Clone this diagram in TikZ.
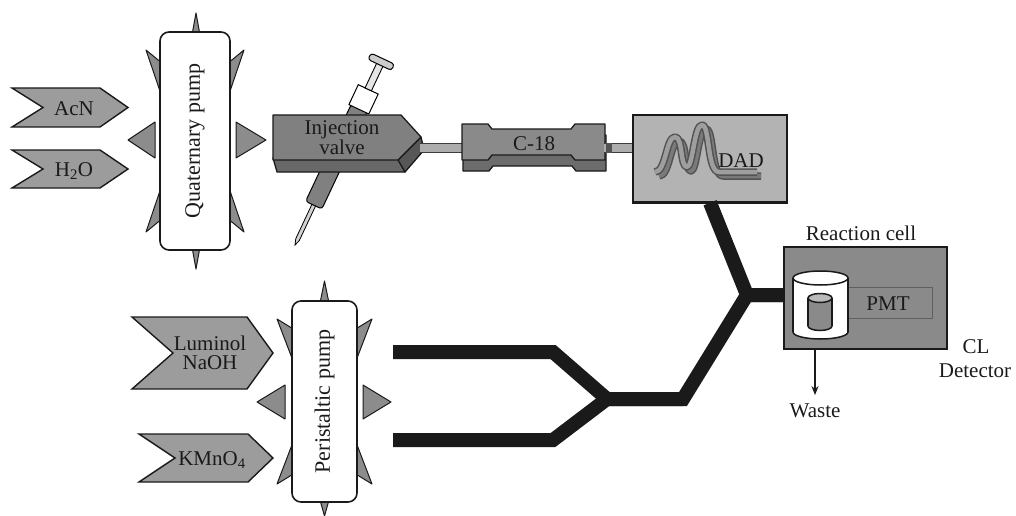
\documentclass[tikz,border=0pt]{standalone}
\usepackage{fontspec}
\setmainfont{Liberation Serif}
\usetikzlibrary{arrows.meta}
\definecolor{ink}{HTML}{1A1A1A}
\definecolor{chevgray}{HTML}{9C9C9C}
\definecolor{spikegray}{HTML}{8C8C8C}
\definecolor{valvegray}{HTML}{808080}
\definecolor{valvedark}{HTML}{686868}
\definecolor{valvedeep}{HTML}{575757}
\definecolor{colgray}{HTML}{8A8A8A}
\definecolor{coldark}{HTML}{6C6C6C}
\definecolor{dadgray}{HTML}{B3B3B3}
\definecolor{clgray}{HTML}{8A8A8A}
\definecolor{tubegray}{HTML}{ADADAD}
\definecolor{ribbonlight}{HTML}{9E9E9E}
\definecolor{ribbondark}{HTML}{7A7A7A}

% one chromatogram trace (two peaks on a baseline)
\newcommand\chromline[1]{%
  \draw[#1] (655,172) .. controls (666,172) and (666,137) .. (675,137)
    .. controls (683,137) and (680,167) .. (687,167)
    .. controls (693,167) and (694,125) .. (702,125)
    .. controls (710,125) and (707,172) .. (719,172) -- (757,172);}

\begin{document}
\begin{tikzpicture}[x=1pt,y=-1pt,
  every node/.style={inner sep=0pt, text=ink},
  lbl/.style={font=\fontsize{21}{19}\selectfont, align=center},
  chevron/.style={fill=chevgray, draw=ink, line width=1.4pt, line join=miter},
  spike/.style={fill=spikegray, draw=ink, line width=1pt, line join=round},
  pumpbox/.style={draw=ink, fill=white, line width=1.6pt, rounded corners=9pt,
    font=\fontsize{22}{22}\selectfont},
  flow/.style={draw=ink, line width=14pt, line join=miter},
  tube/.style={draw=ink!85, line width=1pt, double=tubegray, double distance=8pt},
  solid3d/.style={draw=ink, line width=1.3pt, line join=round},
  cyl/.style={draw=ink, line width=1.5pt},
  wastearrow/.style={draw=ink, line width=1.3pt, -{Stealth[length=9pt,width=7pt]}}
]
\useasboundingbox (0,0) rectangle (1016,516);

% ---------- solvent inlets ----------
\draw[chevron] (12,88) -- (100,88) -- (128,107.5) -- (100,127) -- (12,127) -- (43,107.5) -- cycle;
\node[lbl, anchor=base] (acn) at (74,115) {AcN};
\draw[chevron] (12,150) -- (100,150) -- (128,169) -- (100,188) -- (12,188) -- (43,169) -- cycle;
\node[lbl, anchor=base] (h2o) at (74,176) {H\textsubscript{2}O};

% ---------- quaternary pump ----------
\draw[spike] (192,35) -- (196,13) -- (200,35) -- cycle;
\draw[spike] (192,247) -- (196,269) -- (200,247) -- cycle;
\draw[spike] (155,122) -- (128,140) -- (155,158) -- cycle;
\draw[spike] (236,122) -- (266,140) -- (236,158) -- cycle;
\draw[spike] (146,50) -- (163,64) -- (163,100) -- cycle;
\draw[spike] (244,50) -- (227,64) -- (227,100) -- cycle;
\draw[spike] (146,232) -- (163,218) -- (163,182) -- cycle;
\draw[spike] (244,232) -- (227,218) -- (227,182) -- cycle;
\node[pumpbox, rotate=90, minimum width=218pt, minimum height=70pt] (qpump) at (195,141) {Quaternary pump};

% ---------- syringe through the injection valve ----------
\begin{scope}[shift={(295,245)}, rotate=64.8]
  \draw[fill=gray!35, line width=0.8pt] (0,0) -- (6,-2) -- (47,-2) -- (47,2) -- (6,2) -- cycle;
  \draw[fill=valvegray, line width=1pt, rounded corners=3pt] (44,-9) rectangle (151,9);
  \draw[fill=white, line width=1pt] (150,-11) rectangle (172,11);
  \draw[fill=gray!20, line width=0.9pt] (172,-3.5) rectangle (200,3.5);
  \draw[fill=gray!40, line width=1pt, rounded corners=3pt] (199,-13) rectangle (206,13);
\end{scope}

% ---------- injection valve ----------
\draw[solid3d, fill=valvedark] (273,158) -- (398,158) -- (405,172) -- (277,172) -- cycle;
\draw[solid3d, fill=valvedeep] (398,160) -- (421,137) -- (424,150) -- (405,172) -- cycle;
\draw[solid3d, fill=valvegray] (273,115) -- (401,115) -- (421,137) -- (398,160) -- (273,160) -- cycle;
\node[lbl] (valve) at (342,138) {Injection\\valve};

% ---------- C-18 column ----------
\coordinate (vout) at (420,148);
\coordinate (cin) at (463,148);
\coordinate (cout) at (604,148);
\draw[tube] (vout) -- (cin);
\begin{scope}[shift={(1,11)}]
  \draw[solid3d, fill=coldark] (462,124) -- (488,124) -- (492,129) -- (571,129) -- (575,124) -- (605,124)
    -- (605,160) -- (575,160) -- (571,155) -- (492,155) -- (488,160) -- (462,160) -- cycle;
\end{scope}
\draw[solid3d, fill=colgray] (462,124) -- (488,124) -- (492,129) -- (571,129) -- (575,124) -- (605,124)
    -- (605,160) -- (575,160) -- (571,155) -- (492,155) -- (488,160) -- (462,160) -- cycle;
\node[lbl, anchor=base] (col) at (534,150) {C-18};

% ---------- black flow lines ----------
\coordinate (j1) at (747,295);
\coordinate (k1) at (683,399);
\coordinate (j2) at (607,399);
\coordinate (u1) at (553,352);
\coordinate (l1) at (553,440);
\coordinate (lumend) at (393,352);
\coordinate (kmnend) at (393,440);

% ---------- DAD ----------
\node[draw=ink, line width=1.5pt, fill=dadgray, minimum width=154pt, minimum height=87pt] (dad) at (710,158.5) {};
\draw[tube] (cout) -- (dad.west |- cout);
\fill[ink!75] (606,143) rectangle (612,153);
\begin{scope}[shift={(4,4)}]
  \chromline{line width=7.5pt, draw=ink!75, line join=round}
  \chromline{line width=4.5pt, draw=ribbondark, line join=round}
\end{scope}
\chromline{line width=7.5pt, draw=ink!75, line join=round}
\chromline{line width=4.5pt, draw=ribbonlight, line join=round}
\node[lbl, anchor=base] (dadlabel) at (741,167) {DAD};

% ---------- CL detector ----------
\node[draw=ink, line width=1.5pt, fill=clgray, minimum width=163pt, minimum height=102pt] (cl) at (865.5,298) {};

\draw[flow] (lumend) -- (u1) -- (j2) -- (k1) -- (j1) -- (cl.west |- j1);
\draw[flow] (kmnend) -- (l1) -- (j2) -- (k1);
\draw[flow] (dad.south) -- (j1) -- (cl.west |- j1);
% redraw box edges over the line ends
\draw[ink, line width=1.5pt] (dad.south west) -- (dad.south east);

\node[draw=ink!70, line width=1pt, fill=clgray, minimum width=85pt, minimum height=31pt] (pmt) at (889.5,302.5) {};
\node[lbl, anchor=base] (pmtlabel) at (888,310) {PMT};
% reaction cell vessel
\draw[cyl, fill=white] (820.5,332) ellipse [x radius=27.5, y radius=7];
\fill[white] (793,278) rectangle (848,332);
\draw[cyl] (793,278) -- (793,332);
\draw[cyl] (848,278) -- (848,332);
\draw[cyl, fill=white] (820.5,278) ellipse [x radius=27.5, y radius=7];
% inner cuvette
\draw[cyl, fill=clgray] (820,326) ellipse [x radius=12, y radius=4.5];
\fill[clgray] (808,298) rectangle (832,326);
\draw[cyl] (808,298) -- (808,326);
\draw[cyl] (832,298) -- (832,326);
\draw[cyl, fill=gray!55] (820,298) ellipse [x radius=12, y radius=4.5];

\node[lbl, anchor=base] (rclabel) at (861,240) {Reaction cell};
\node[lbl, anchor=base] (cllabel) at (976,353) {CL};
\node[lbl, anchor=base] (detlabel) at (975,377) {Detector};
\node[lbl, anchor=base] (waste) at (815,417) {Waste};
\draw[wastearrow, shorten >=8pt] (cl.south -| waste.north) -- (waste.north);

% ---------- peristaltic pump and reagents ----------
\draw[chevron] (132,317) -- (247,317) -- (273,353) -- (247,389) -- (132,389) -- (173,353) -- cycle;
\node[lbl] (lum) at (210,353) {Luminol\\NaOH};
\draw[chevron] (139,434) -- (248,434) -- (273,458) -- (248,482) -- (139,482) -- (175,458) -- cycle;
\node[lbl, anchor=base] (kmno) at (212,465) {KMnO\textsubscript{4}};

\draw[spike] (320,303) -- (324.5,281) -- (329,303) -- cycle;
\draw[spike] (320,500) -- (324.5,516) -- (329,500) -- cycle;
\draw[spike] (285,385) -- (257,402) -- (285,419) -- cycle;
\draw[spike] (363,385) -- (391,402) -- (363,419) -- cycle;
\draw[spike] (277,319) -- (295,330) -- (295,366) -- cycle;
\draw[spike] (372,319) -- (354,330) -- (354,366) -- cycle;
\draw[spike] (277,484) -- (295,473) -- (295,437) -- cycle;
\draw[spike] (372,484) -- (354,473) -- (354,437) -- cycle;
\node[pumpbox, rotate=90, minimum width=201pt, minimum height=65pt] (ppump) at (324.5,401.5) {Peristaltic pump};
\end{tikzpicture}
\end{document}
